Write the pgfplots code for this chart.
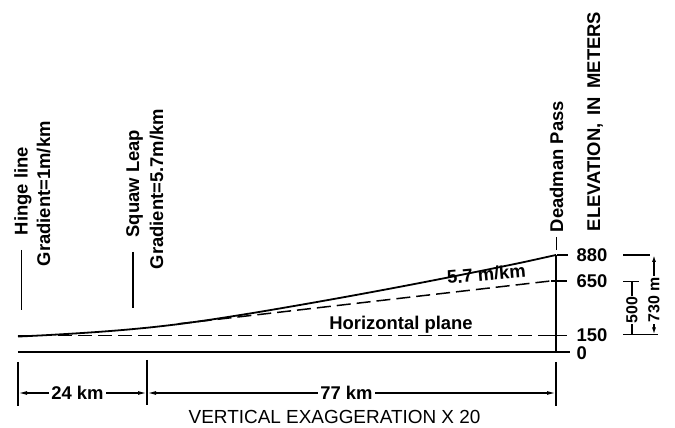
\documentclass[border=0pt]{standalone}
\usepackage{pgfplots}
\pgfplotsset{compat=1.18}
\usepackage{fontspec}
\setmainfont{Liberation Sans}
\usetikzlibrary{arrows.meta}
\newcommand\lbl{\fontsize{18.5}{20}\selectfont\bfseries}
\newcommand\reg{\fontsize{19}{21}\selectfont}
\newcommand\sml{\fontsize{16}{18}\selectfont\bfseries}
\begin{document}
\begin{tikzpicture}
\begin{axis}[name=ax, width=675bp, height=428bp, scale only axis, hide axis,
  xmin=-3.379, xmax=123.34, ymin=-689.5, ymax=3193.3, clip=false]
% ground surface (solid)
\addplot[black, line width=1.8bp, smooth] coordinates {
(0,140) (5,152) (10,166) (15,182) (20,201) (25,224) (30,252) (35,285) (40,322)
(45,361) (50,402) (55,444) (60,487) (65,531) (70,576) (75,622) (80,669)
(85,717) (90,766) (95,816) (101,880)};
% 5.7 m/km line
\addplot[black, line width=1.5bp, dash pattern=on 14bp off 6bp] coordinates {(30,255) (101,650)};
% horizontal plane
\addplot[black, line width=1.5bp, dash pattern=on 14bp off 6bp] coordinates {(0,150) (101,150)};
% base (0 m)
\addplot[black, line width=1.9bp] coordinates {(0,0) (103.6,0)};
% Deadman Pass vertical
\addplot[black, line width=1.5bp] coordinates {(101,0) (101,880)};
\end{axis}
\begin{scope}[shift={(ax.north west)}, x=1bp, y=-1bp, line width=1.4bp]
% location ticks
\draw (21.7,250) -- (21.7,310);
\draw (133,252) -- (133,308);
\draw (556.5,237) -- (556.5,250);
% axis ticks
\draw (556.5,255) -- (568,255);
\draw (551,281) -- (567,281);
\draw (551,335.5) -- (567,335.5);
% labels
\node[rotate=90, anchor=base west, inner sep=0, font=\lbl] at (27.5,236) {Hinge line};
\node[rotate=90, anchor=base west, inner sep=0, font=\lbl] at (50,267) {Gradient=1m/km};
\node[rotate=90, anchor=base west, inner sep=0, font=\lbl] at (139,238) {Squaw Leap};
\node[rotate=90, anchor=base west, inner sep=0, font=\lbl] at (163,270) {Gradient=5.7m/km};
\node[rotate=90, anchor=base west, inner sep=0, font=\lbl] at (563,233) {Deadman Pass};
\node[rotate=90, anchor=base, inner sep=0, font=\lbl] at (600,121.5) {ELEVATION,\, IN\, METERS};
\node[anchor=west, inner sep=0, font=\lbl] at (576,255) {880};
\node[anchor=west, inner sep=0, font=\lbl] at (576,281) {650};
\node[anchor=west, inner sep=0, font=\lbl] at (576,335) {150};
\node[anchor=west, inner sep=0, font=\lbl] at (576,353) {0};
\node[anchor=base, inner sep=0, font=\lbl] at (401,330) {Horizontal plane};
\node[rotate=5, anchor=base west, inner sep=0, font=\lbl] at (447,284) {5.7 m/km};
% right dimensions
\draw (623,255) -- (650,255);
\draw (623,281.5) -- (639,281.5);
\draw (623,334.5) -- (658,334.5);
\draw (632,281.5) -- (632,334.5);
\node[rotate=90, fill=white, inner sep=1pt, font=\sml] at (632,310) {500};
\draw[{Latex[length=7bp,width=4bp]}-{Latex[length=7bp,width=4bp]}] (654,255) -- (654,334.5);
\node[rotate=90, fill=white, inner sep=1pt, font=\sml] at (654,300) {730 m};
% bottom dimensions
\draw (18,362) -- (18,406);
\draw (147,360) -- (147,405);
\draw (556,362) -- (556,406);
\draw[{Latex[length=9bp,width=4bp]}-{Latex[length=9bp,width=4bp]}] (18,393) -- (147,393);
\draw[{Latex[length=9bp,width=4bp]}-{Latex[length=9bp,width=4bp]}] (147,393) -- (556,393);
\node[fill=white, inner sep=2pt, font=\lbl] at (77.5,393) {24 km};
\node[fill=white, inner sep=2pt, font=\lbl] at (346.5,393) {77 km};
\node[anchor=base west, inner sep=0, font=\reg] at (188,424) {VERTICAL EXAGGERATION X 20};
\end{scope}
\pgfresetboundingbox
\path[use as bounding box] (ax.south west) rectangle (ax.north east);
\end{tikzpicture}
\end{document}
